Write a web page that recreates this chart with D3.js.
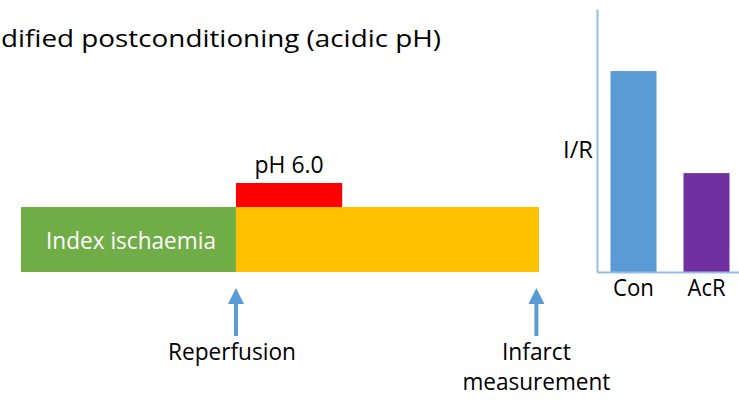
<!DOCTYPE html>
<html>
<head>
<meta charset="utf-8">
<script src="https://cdn.jsdelivr.net/npm/d3@7"></script>
<style>
  html, body { margin: 0; padding: 0; background: #fff; }
  svg { display: block; }
  text { font-family: "Open Sans", "Noto Sans", sans-serif; }
</style>
</head>
<body>
<svg id="chart" width="739" height="403"></svg>
<script>
// ---- data ----
const titleText = "dified postconditioning (acidic pH)";
const phaseNames = ["Index ischaemia", "Reperfusion", "pH 6.0"];
const phaseStart = [0, 41.5, 41.5];
const phaseEnd = [41.5, 100, 62];
const eventNames = [["Reperfusion"], ["Infarct", "measurement"]];
const eventTimes = [41.5, 99.5];
const barCategories = ["Con", "AcR"];
const barValues = [76.4, 37.6];
const yLabel = "I/R";

// ---- styles ----
const phaseColors = ["#70AD47", "#FFC000", "#FF0000"];
const barColors = ["#5B9BD5", "#7030A0"];
const axisColor = "#95BDE4";
const arrowColor = "#5B9BD5";
const fs = 24;

const svg = d3.select("#chart");

// title
svg.append("text")
  .attr("x", 1).attr("y", 47)
  .attr("font-size", fs)
  .attr("fill", "#000")
  .attr("textLength", 440).attr("lengthAdjust", "spacingAndGlyphs")
  .text(titleText);

// ---- timeline ----
const xT = d3.scaleLinear().domain([0, 100]).range([21, 539]);
const mainTop = 207, mainBot = 272, subTop = 183;

// main bars (ischaemia, reperfusion)
[0, 1].forEach(i => {
  svg.append("rect")
    .attr("x", xT(phaseStart[i]))
    .attr("y", mainTop)
    .attr("width", xT(phaseEnd[i]) - xT(phaseStart[i]))
    .attr("height", mainBot - mainTop)
    .attr("fill", phaseColors[i]);
});
// acidic pH bar
svg.append("rect")
  .attr("x", xT(phaseStart[2]))
  .attr("y", subTop)
  .attr("width", xT(phaseEnd[2]) - xT(phaseStart[2]))
  .attr("height", mainTop - subTop)
  .attr("fill", phaseColors[2]);

// labels
svg.append("text")
  .attr("x", (xT(phaseStart[0]) + xT(phaseEnd[0])) / 2 + 2.5)
  .attr("y", 249)
  .attr("text-anchor", "middle")
  .attr("font-size", fs)
  .attr("fill", "#fff")
  .attr("textLength", 170).attr("lengthAdjust", "spacingAndGlyphs")
  .text(phaseNames[0]);

svg.append("text")
  .attr("x", (xT(phaseStart[2]) + xT(phaseEnd[2])) / 2)
  .attr("y", 172.5)
  .attr("text-anchor", "middle")
  .attr("font-size", fs)
  .attr("fill", "#000")
  .attr("textLength", 69).attr("lengthAdjust", "spacingAndGlyphs")
  .text(phaseNames[2]);

// event arrows
const labelWidths = [[128], [69, 148]];
const labelDx = [-4, 0];
eventTimes.forEach((t, i) => {
  const x = xT(t);
  const p = d3.path();
  p.moveTo(x, 288);
  p.lineTo(x + 8, 304);
  p.lineTo(x + 2, 304);
  p.lineTo(x + 2, 336);
  p.lineTo(x - 2, 336);
  p.lineTo(x - 2, 304);
  p.lineTo(x - 8, 304);
  p.closePath();
  svg.append("path").attr("d", p.toString()).attr("fill", arrowColor);
  eventNames[i].forEach((line, j) => {
    svg.append("text")
      .attr("x", x + labelDx[i])
      .attr("y", 359.5 + j * 30)
      .attr("text-anchor", "middle")
      .attr("font-size", fs)
      .attr("fill", "#000")
      .attr("textLength", labelWidths[i][j]).attr("lengthAdjust", "spacingAndGlyphs")
      .text(line);
  });
});

// ---- bar chart ----
const xB = d3.scaleBand().domain(barCategories).range([597, 743])
  .paddingInner(0.37).paddingOuter(0.185);
const yB = d3.scaleLinear().domain([0, 100]).range([272, 9]);

svg.selectAll("rect.bar").data(barCategories).enter().append("rect")
  .attr("class", "bar")
  .attr("x", d => xB(d))
  .attr("width", xB.bandwidth())
  .attr("y", (d, i) => yB(barValues[i]))
  .attr("height", (d, i) => yB(0) - yB(barValues[i]))
  .attr("fill", (d, i) => barColors[i]);

const gy = svg.append("g").attr("transform", "translate(597,0)")
  .call(d3.axisLeft(yB).tickValues([]).tickSizeOuter(0));
gy.select(".domain").attr("stroke", axisColor).attr("stroke-width", 2);

const gx = svg.append("g").attr("transform", `translate(0,${yB(0)})`)
  .call(d3.axisBottom(xB).tickSize(0).tickSizeOuter(0));
gx.select(".domain").attr("stroke", axisColor).attr("stroke-width", 2);
const catWidths = [41, 38];
gx.selectAll(".tick text")
  .attr("dy", null)
  .attr("y", 24)
  .attr("font-size", fs)
  .attr("font-family", "'Open Sans', 'Noto Sans', sans-serif")
  .attr("fill", "#000")
  .attr("textLength", (d, i) => catWidths[i]).attr("lengthAdjust", "spacingAndGlyphs");

svg.append("text")
  .attr("x", 563).attr("y", 157.5)
  .attr("font-size", fs)
  .attr("fill", "#000")
  .attr("textLength", 30).attr("lengthAdjust", "spacingAndGlyphs")
  .text(yLabel);
</script>
</body>
</html>
